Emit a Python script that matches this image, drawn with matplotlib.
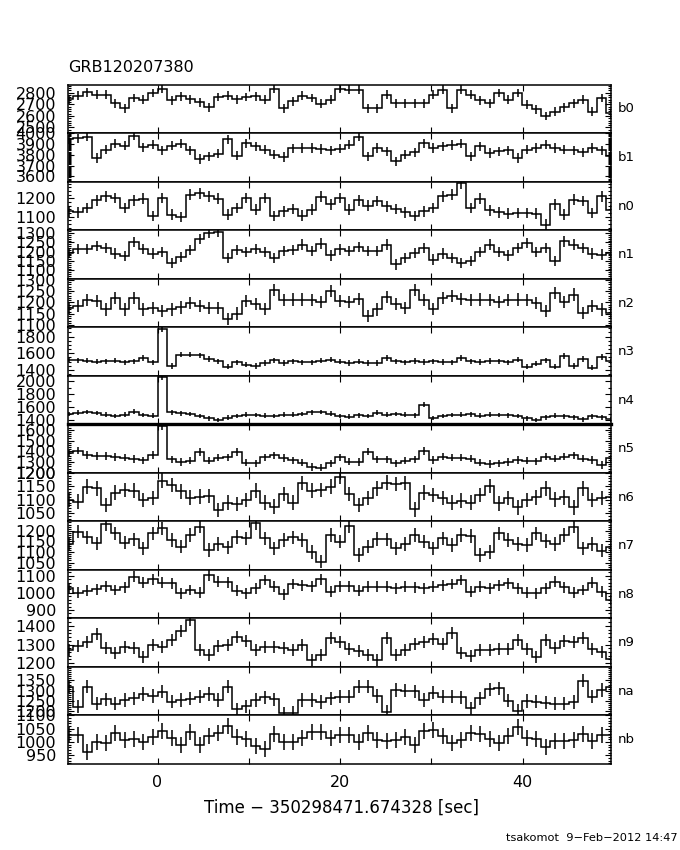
import numpy as np
import matplotlib
matplotlib.use("Agg")
import matplotlib.pyplot as plt
from matplotlib.ticker import MultipleLocator

plt.rcParams['font.family'] = ['DejaVu Sans']

# ---------------- data ----------------
BIN = 1.024
t_edges = np.arange(-10, 50) * BIN   # time-bin edges (s), 59 bins

detectors = ['b0', 'b1', 'n0', 'n1', 'n2', 'n3', 'n4', 'n5',
             'n6', 'n7', 'n8', 'n9', 'na', 'nb']

b0 = [2745, 2774, 2803, 2783, 2783, 2710, 2667, 2754, 2740, 2798, 2832, 2734, 2769, 2745, 2716,
      2676, 2763, 2774, 2745, 2763, 2769, 2740, 2832, 2667, 2725, 2774, 2754, 2705, 2740, 2832,
      2827, 2827, 2667, 2667, 2783, 2710, 2710, 2710, 2710, 2783, 2827, 2667, 2827, 2783, 2734,
      2710, 2798, 2740, 2798, 2696, 2658, 2600, 2638, 2676, 2710, 2740, 2638, 2754, 2624]
b1 = [3945, 3954, 3969, 3770, 3847, 3902, 3884, 3976, 3868, 3893, 3841, 3884, 3902, 3841, 3761,
      3786, 3810, 3945, 3792, 3908, 3878, 3847, 3801, 3780, 3859, 3862, 3862, 3853, 3841, 3856,
      3893, 3969, 3786, 3862, 3832, 3740, 3801, 3823, 3908, 3862, 3878, 3890, 3902, 3786, 3878,
      3816, 3832, 3841, 3770, 3847, 3862, 3893, 3862, 3847, 3841, 3823, 3862, 3841, 3792]
n0 = [1129, 1123, 1147, 1189, 1211, 1202, 1147, 1189, 1197, 1102, 1202, 1111, 1098, 1220, 1226,
      1211, 1197, 1111, 1147, 1202, 1138, 1202, 1102, 1129, 1142, 1105, 1138, 1208, 1166, 1202,
      1138, 1189, 1160, 1184, 1156, 1142, 1123, 1102, 1129, 1147, 1211, 1220, 1281, 1147, 1197,
      1134, 1123, 1116, 1120, 1120, 1116, 1056, 1166, 1111, 1193, 1184, 1120, 1211, 1134]
n1 = [1194, 1215, 1215, 1230, 1221, 1190, 1176, 1251, 1215, 1190, 1198, 1141, 1173, 1208, 1269,
      1301, 1308, 1167, 1208, 1198, 1215, 1198, 1167, 1203, 1208, 1238, 1203, 1244, 1180, 1212,
      1203, 1226, 1203, 1203, 1238, 1132, 1167, 1194, 1221, 1158, 1190, 1167, 1141, 1149, 1198,
      1238, 1198, 1180, 1221, 1247, 1198, 1221, 1149, 1256, 1238, 1221, 1190, 1185, 1194]
n2 = [1176, 1184, 1210, 1206, 1169, 1221, 1169, 1221, 1169, 1175, 1163, 1169, 1178, 1198, 1184,
      1175, 1175, 1127, 1151, 1206, 1195, 1172, 1255, 1210, 1213, 1213, 1210, 1201, 1250, 1206,
      1201, 1216, 1139, 1169, 1225, 1195, 1176, 1255, 1210, 1172, 1221, 1228, 1216, 1210, 1213,
      1210, 1201, 1210, 1213, 1210, 1198, 1161, 1243, 1201, 1235, 1154, 1184, 1169, 1154]
n3 = [1525, 1517, 1513, 1501, 1505, 1513, 1493, 1505, 1545, 1493, 1890, 1446, 1584, 1584, 1573,
      1533, 1505, 1438, 1493, 1465, 1446, 1485, 1517, 1485, 1505, 1493, 1493, 1513, 1525, 1501,
      1485, 1501, 1485, 1485, 1545, 1505, 1493, 1509, 1497, 1505, 1497, 1493, 1545, 1505, 1497,
      1509, 1505, 1493, 1525, 1438, 1477, 1517, 1438, 1565, 1446, 1533, 1426, 1557, 1505]
n4 = [1499, 1520, 1530, 1515, 1489, 1468, 1489, 1535, 1484, 1473, 2060, 1525, 1509, 1499, 1468,
      1432, 1407, 1443, 1468, 1489, 1484, 1473, 1468, 1489, 1489, 1499, 1525, 1530, 1504, 1468,
      1458, 1479, 1468, 1520, 1489, 1499, 1489, 1479, 1638, 1437, 1468, 1484, 1489, 1494, 1473,
      1489, 1484, 1479, 1468, 1432, 1407, 1448, 1473, 1463, 1448, 1417, 1463, 1448, 1417]
n5 = [1382, 1407, 1367, 1357, 1357, 1348, 1342, 1330, 1317, 1367, 1635, 1327, 1302, 1314, 1394,
      1314, 1342, 1345, 1394, 1296, 1290, 1345, 1364, 1339, 1317, 1296, 1253, 1247, 1290, 1345,
      1305, 1302, 1397, 1327, 1327, 1290, 1314, 1327, 1404, 1320, 1351, 1342, 1342, 1333, 1296,
      1283, 1287, 1302, 1320, 1314, 1308, 1351, 1333, 1351, 1364, 1333, 1320, 1274, 1336]
n6 = [1100, 1093, 1149, 1143, 1081, 1127, 1137, 1134, 1100, 1106, 1171, 1155, 1131, 1108, 1112,
      1114, 1062, 1090, 1085, 1100, 1134, 1090, 1075, 1122, 1090, 1162, 1134, 1137, 1149, 1186,
      1122, 1081, 1106, 1143, 1164, 1158, 1162, 1065, 1127, 1118, 1106, 1090, 1097, 1090, 1118,
      1152, 1087, 1106, 1072, 1100, 1109, 1143, 1102, 1109, 1072, 1143, 1100, 1106, 1112]
n7 = [1138, 1196, 1169, 1141, 1232, 1188, 1144, 1160, 1117, 1188, 1212, 1157, 1125, 1180, 1220,
      1109, 1138, 1122, 1172, 1164, 1236, 1164, 1117, 1157, 1169, 1157, 1101, 1054, 1180, 1149,
      1223, 1085, 1125, 1161, 1160, 1117, 1138, 1180, 1149, 1117, 1164, 1133, 1180, 1175, 1085,
      1101, 1188, 1157, 1138, 1133, 1188, 1153, 1138, 1180, 1220, 1117, 1138, 1106, 1125]
n8 = [1027, 1001, 1013, 1021, 1040, 1017, 1033, 1096, 1060, 1080, 1060, 1056, 997, 1017, 1001,
      1103, 1066, 1062, 1013, 997, 1027, 1076, 1037, 993, 1052, 1046, 1040, 1080, 1007, 1040,
      1040, 1013, 1037, 1037, 1037, 1027, 1037, 1033, 1027, 1037, 1044, 1052, 1076, 1007, 1037,
      1027, 1046, 1056, 1027, 1001, 997, 1027, 1066, 1033, 1001, 1017, 1060, 1007, 958]
n9 = [1271, 1292, 1315, 1356, 1280, 1257, 1289, 1280, 1232, 1298, 1289, 1324, 1374, 1431, 1271,
      1244, 1292, 1299, 1339, 1321, 1271, 1285, 1289, 1282, 1271, 1298, 1218, 1242, 1333, 1315,
      1274, 1267, 1244, 1218, 1333, 1244, 1271, 1303, 1315, 1328, 1303, 1360, 1253, 1239, 1271,
      1271, 1274, 1274, 1324, 1274, 1235, 1324, 1280, 1321, 1315, 1333, 1274, 1262, 1221]
na = [1319, 1222, 1319, 1238, 1258, 1238, 1255, 1263, 1284, 1274, 1295, 1247, 1255, 1261, 1271,
      1284, 1255, 1319, 1209, 1225, 1255, 1268, 1258, 1190, 1193, 1255, 1255, 1245, 1263, 1271,
      1271, 1319, 1319, 1274, 1198, 1303, 1300, 1297, 1255, 1290, 1271, 1271, 1268, 1214, 1263,
      1306, 1311, 1251, 1203, 1250, 1247, 1242, 1238, 1238, 1245, 1349, 1271, 1303, 1319]
nb = [1026, 1025, 964, 1001, 998, 1035, 1008, 1010, 1001, 1018, 1043, 1014, 989, 1039, 989,
      1023, 1033, 1060, 1018, 1010, 985, 976, 1030, 1001, 1000, 1014, 1039, 1039, 1014, 1026,
      1026, 1001, 1033, 1008, 1005, 1008, 1018, 989, 1043, 1045, 1023, 995, 1008, 1035, 1030,
      1010, 998, 1023, 1058, 1014, 1010, 983, 1005, 1005, 1008, 1030, 1005, 1026, 1026]

rates = [b0, b1, n0, n1, n2, n3, n4, n5, n6, n7, n8, n9, na, nb]
errors = [38, 43, 29, 28, 27, 32, 36, 34, 27, 32, 32, 32, 32, 30]

y_limits = [(2450, 2870), (3550, 4000), (1025, 1290), (1055, 1315), (1090, 1305),
            (1330, 1910), (1340, 2080), (1200, 1650), (1020, 1200), (1015, 1245),
            (850, 1135), (1180, 1440), (1180, 1415), (918, 1100)]
y_ticks = [[2500, 2600, 2700, 2800], [3600, 3700, 3800, 3900, 4000], [1100, 1200],
           [1100, 1150, 1200, 1250, 1300], [1100, 1150, 1200, 1250, 1300],
           [1400, 1600, 1800], [1400, 1600, 1800, 2000], [1200, 1300, 1400, 1500, 1600],
           [1050, 1100, 1150, 1200], [1050, 1100, 1150, 1200], [900, 1000, 1100],
           [1200, 1300, 1400], [1200, 1250, 1300, 1350], [950, 1000, 1050, 1100]]
y_minor = [20, 10, 20, 10, 10, 50, 100, 20, 10, 10, 20, 20, 10, 10]

x_ticks = [0, 10, 20, 30, 40]
x_ticklabels = ['0', '', '20', '', '40']

# ---------------- figure ----------------
W, H = 680, 850
fig = plt.figure(figsize=(W / 100, H / 100), dpi=100)
ax_left, ax_right = 68 / W, 610.5 / W
ax_top, ax_bot = 1 - 84.7 / H, 1 - 764 / H
n = len(detectors)
ph = (ax_top - ax_bot) / n
centers = 0.5 * (t_edges[:-1] + t_edges[1:])

lw = 1.1
for i, det in enumerate(detectors):
    ax = fig.add_axes([ax_left, ax_top - (i + 1) * ph, ax_right - ax_left, ph])
    vals = np.asarray(rates[i], dtype=float)
    ax.stairs(vals, t_edges, color='black', linewidth=lw, baseline=None)
    ax.errorbar(centers, vals, yerr=errors[i], fmt='none', ecolor='black',
                elinewidth=lw, capsize=0)
    ax.set_xlim(-9.8, 49.6)
    ax.set_ylim(*y_limits[i])
    ax.set_yticks(y_ticks[i])
    ax.yaxis.set_minor_locator(MultipleLocator(y_minor[i]))
    ax.set_xticks(x_ticks)
    ax.tick_params(axis='both', which='both', direction='in', top=True, right=True,
                   labelright=False, width=0.8)
    ax.tick_params(axis='y', which='major', length=4, labelsize=11.5, pad=8.5)
    ax.tick_params(axis='y', which='minor', length=2)
    ax.tick_params(axis='x', which='major', length=4, labelsize=11.5, pad=8)
    for sp in ax.spines.values():
        sp.set_linewidth(lw)
    if i == n - 1:
        ax.set_xticklabels(x_ticklabels)
    else:
        ax.set_xticklabels([])
    if det == 'n5':
        ax.spines['top'].set_linewidth(2.4)
    ax.text(618 / W, ax_top - (i + 0.5) * ph, det, transform=fig.transFigure,
            ha='left', va='center', fontsize=9.5)

fig.text(ax_left, 1 - 68 / H, 'GRB120207380', ha='left', va='center', fontsize=11.5)
fig.text(342 / W, 1 - 808 / H, 'Time \u2212 350298471.674328 [sec]', ha='center',
         va='center', fontsize=12)
fig.text(678 / W, 1 - 838 / H, 'tsakomot  9\u2212Feb\u22122012 14:47', ha='right',
         va='center', fontsize=8.2)

fig.savefig('out.png', dpi=100)
